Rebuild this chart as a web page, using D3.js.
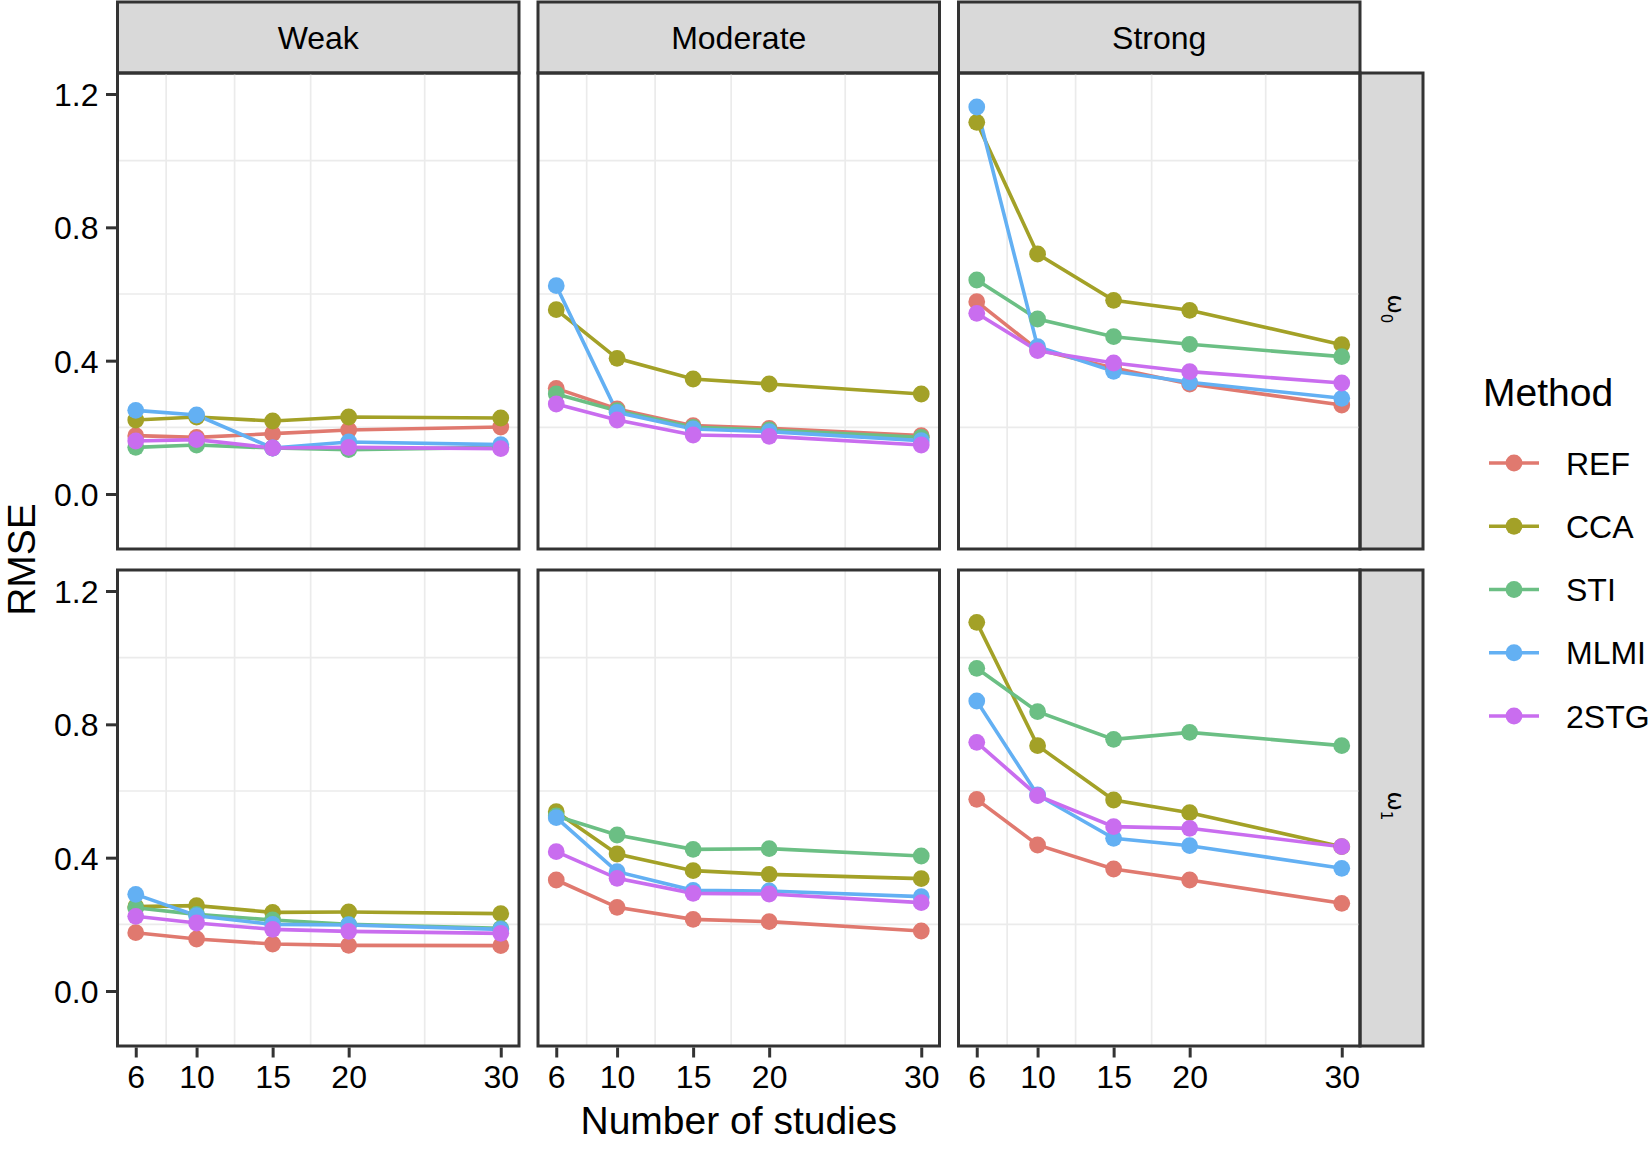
<!DOCTYPE html>
<html lang="en">
<head>
    <meta charset="UTF-8">
    <title>RMSE by number of studies</title>
    <style>
        body {
            margin: 0;
            padding: 0;
            background: #ffffff;
            font-family: "Liberation Sans", Arial, sans-serif;
        }
        svg text {
            fill: #000000;
        }
    </style>
</head>
<body>
<svg id="chart"></svg>

<script src="https://d3js.org/d3.v7.min.js"></script>
<script>
    // number of studies on the x axis
    var studies = [6, 10, 15, 20, 30];
    var strengths = ["Weak", "Moderate", "Strong"];
    var methods = ["REF", "CCA", "STI", "MLMI", "2STG"];
    var methodColors = ["#e0796f", "#a3a127", "#6bbf84", "#63b0f3", "#c96def"];
    var yTicks = [0, 0.4, 0.8, 1.2];
    var yMinor = [0.2, 0.6, 1.0];
    var xMinor = [8, 12.5, 17.5, 25];

    // omega_0 row, one array per method in order REF, CCA, STI, MLMI, 2STG
    var w0Weak = [
        [0.175, 0.170, 0.181, 0.192, 0.201],
        [0.222, 0.231, 0.219, 0.231, 0.228],
        [0.140, 0.147, 0.138, 0.133, 0.140],
        [0.251, 0.237, 0.138, 0.156, 0.148],
        [0.159, 0.163, 0.138, 0.140, 0.136]
    ];
    var w0Moderate = [
        [0.317, 0.255, 0.205, 0.197, 0.175],
        [0.553, 0.407, 0.345, 0.330, 0.300],
        [0.300, 0.250, 0.200, 0.192, 0.170],
        [0.625, 0.245, 0.195, 0.187, 0.160],
        [0.270, 0.222, 0.177, 0.173, 0.147]
    ];
    var w0Strong = [
        [0.577, 0.433, 0.378, 0.330, 0.267],
        [1.115, 0.720, 0.581, 0.551, 0.448],
        [0.642, 0.525, 0.472, 0.449, 0.412],
        [1.161, 0.442, 0.368, 0.335, 0.287],
        [0.542, 0.430, 0.393, 0.367, 0.333]
    ];

    // omega_1 row
    var w1Weak = [
        [0.175, 0.156, 0.141, 0.137, 0.136],
        [0.253, 0.256, 0.236, 0.237, 0.232],
        [0.250, 0.230, 0.213, 0.200, 0.188],
        [0.290, 0.226, 0.200, 0.198, 0.185],
        [0.224, 0.204, 0.185, 0.179, 0.173]
    ];
    var w1Moderate = [
        [0.333, 0.251, 0.215, 0.208, 0.180],
        [0.538, 0.411, 0.361, 0.350, 0.337],
        [0.525, 0.468, 0.425, 0.427, 0.405],
        [0.520, 0.358, 0.302, 0.300, 0.283],
        [0.418, 0.338, 0.293, 0.291, 0.265]
    ];
    var w1Strong = [
        [0.575, 0.438, 0.366, 0.333, 0.263],
        [1.106, 0.736, 0.573, 0.535, 0.433],
        [0.968, 0.838, 0.755, 0.776, 0.736],
        [0.870, 0.588, 0.458, 0.436, 0.368],
        [0.746, 0.586, 0.493, 0.488, 0.433]
    ];

    var rows = [
        {sub: "0", panels: [w0Weak, w0Moderate, w0Strong]},
        {sub: "1", panels: [w1Weak, w1Moderate, w1Strong]}
    ];

    // Layout
    var W = 1651, H = 1154;
    var marginLeft = 117.5, marginTop = 73;
    var panelW = 401.5, panelH = 476, colGap = 19, rowGap = 21;
    var stripH = 71, stripW = 63;
    var border = "#333333";

    var svg = d3.select("#chart")
        .attr("width", W)
        .attr("height", H);

    var x = d3.scaleLinear().domain([4.8, 31.2]).range([0, panelW]);
    var y = d3.scaleLinear().domain([-0.165, 1.263]).range([panelH, 0]);

    var line = d3.line()
        .x(function (d, i) { return x(studies[i]); })
        .y(function (d) { return y(d); });

    // Column strips on top
    strengths.forEach(function (s, c) {
        var sx = marginLeft + c * (panelW + colGap);
        svg.append("rect")
            .attr("x", sx)
            .attr("y", marginTop - stripH)
            .attr("width", panelW)
            .attr("height", stripH)
            .attr("fill", "#d9d9d9")
            .attr("stroke", border)
            .attr("stroke-width", 3);
        svg.append("text")
            .attr("x", sx + panelW / 2)
            .attr("y", marginTop - stripH / 2 + 11.5)
            .attr("text-anchor", "middle")
            .style("font-size", "32px")
            .text(s);
    });

    rows.forEach(function (row, r) {
        var py = marginTop + r * (panelH + rowGap);

        // Row strip on the right
        var rx = marginLeft + 3 * panelW + 2 * colGap;
        svg.append("rect")
            .attr("x", rx)
            .attr("y", py)
            .attr("width", stripW)
            .attr("height", panelH)
            .attr("fill", "#d9d9d9")
            .attr("stroke", border)
            .attr("stroke-width", 3);
        var lab = svg.append("text")
            .attr("transform", "translate(" + (rx + 28) + "," + (py + panelH / 2 - 2) + ") rotate(90)")
            .attr("text-anchor", "middle")
            .style("font-family", "'DejaVu Sans', sans-serif");
        lab.append("tspan").style("font-size", "23px").text("\u03c9");
        lab.append("tspan").style("font-size", "15px").attr("dy", 7).text(row.sub);

        row.panels.forEach(function (series, c) {
            var px = marginLeft + c * (panelW + colGap);
            var g = svg.append("g")
                .attr("transform", "translate(" + px + "," + py + ")");

            // minor grid lines only
            g.selectAll(".gx").data(xMinor).enter().append("line")
                .attr("x1", function (d) { return x(d); })
                .attr("x2", function (d) { return x(d); })
                .attr("y1", 0).attr("y2", panelH)
                .attr("stroke", "#ebebeb").attr("stroke-width", 1.7);
            g.selectAll(".gy").data(yMinor).enter().append("line")
                .attr("x1", 0).attr("x2", panelW)
                .attr("y1", function (d) { return y(d); })
                .attr("y2", function (d) { return y(d); })
                .attr("stroke", "#ebebeb").attr("stroke-width", 1.7);

            // lines first, then points (as in ggplot layers)
            g.selectAll(".ln").data(series).enter().append("path")
                .attr("d", function (d) { return line(d); })
                .attr("fill", "none")
                .attr("stroke", function (d, i) { return methodColors[i]; })
                .attr("stroke-width", 3.6);

            series.forEach(function (vals, i) {
                g.selectAll(".pt" + i).data(vals).enter().append("circle")
                    .attr("cx", function (d, k) { return x(studies[k]); })
                    .attr("cy", function (d) { return y(d); })
                    .attr("r", 8.4)
                    .attr("fill", methodColors[i]);
            });

            // panel border
            g.append("rect")
                .attr("width", panelW)
                .attr("height", panelH)
                .attr("fill", "none")
                .attr("stroke", border)
                .attr("stroke-width", 3);

            // y axis on first column
            if (c === 0) {
                var ya = g.append("g")
                    .call(d3.axisLeft(y).tickValues(yTicks).tickFormat(d3.format(".1f"))
                        .tickSize(10).tickPadding(9));
                ya.select(".domain").remove();
                ya.selectAll("line").attr("stroke", border).attr("stroke-width", 3)
                    .attr("transform", "translate(-1.5,0)");
                ya.selectAll("text").style("font-size", "32px")
                    .style("font-family", "'Liberation Sans', Arial, sans-serif")
                    .attr("fill", "#000").attr("dy", "0.36em");
            }

            // x axis on bottom row
            if (r === rows.length - 1) {
                var xa = g.append("g")
                    .attr("transform", "translate(0," + panelH + ")")
                    .call(d3.axisBottom(x).tickValues(studies).tickSize(10).tickPadding(9));
                xa.select(".domain").remove();
                xa.selectAll("line").attr("stroke", border).attr("stroke-width", 3)
                    .attr("transform", "translate(0,1.5)");
                xa.selectAll("text").style("font-size", "32px")
                    .style("font-family", "'Liberation Sans', Arial, sans-serif")
                    .attr("fill", "#000");
            }
        });
    });

    // Axis titles
    svg.append("text")
        .attr("x", (marginLeft + 3 * panelW + 2 * colGap + marginLeft) / 2)
        .attr("y", 1134)
        .attr("text-anchor", "middle")
        .style("font-size", "39px")
        .text("Number of studies");

    svg.append("text")
        .attr("transform", "translate(35," + (marginTop + (2 * panelH + rowGap) / 2) + ") rotate(-90)")
        .attr("text-anchor", "middle")
        .style("font-size", "39px")
        .text("RMSE");

    // Legend
    var legend = svg.append("g").attr("transform", "translate(1483,0)");
    legend.append("text")
        .attr("x", 0)
        .attr("y", 406)
        .style("font-size", "39px")
        .text("Method");

    var legendY = d3.scalePoint().domain(methods).range([463, 716]);
    var items = legend.selectAll(".item").data(methods).enter().append("g")
        .attr("transform", function (d) { return "translate(0," + legendY(d) + ")"; });
    items.append("line")
        .attr("x1", 6).attr("x2", 56)
        .attr("stroke", function (d, i) { return methodColors[i]; })
        .attr("stroke-width", 3.6);
    items.append("circle")
        .attr("cx", 31)
        .attr("r", 8.4)
        .attr("fill", function (d, i) { return methodColors[i]; });
    items.append("text")
        .attr("x", 83)
        .attr("y", 11.5)
        .style("font-size", "32px")
        .text(function (d) { return d; });
</script>
</body>
</html>
